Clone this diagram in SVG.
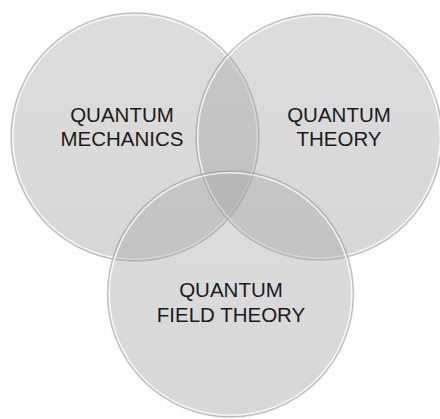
<svg xmlns="http://www.w3.org/2000/svg" width="440" height="419" viewBox="0 0 440 419">
  <defs>
    <linearGradient id="fillGrad" x1="0" y1="0" x2="0" y2="1">
      <stop offset="0" stop-color="#a8a8a8"/>
      <stop offset="1" stop-color="#9c9c9c"/>
    </linearGradient>
    <style>
      .disc { fill: url(#fillGrad); fill-opacity: 0.4; }
      .shade { fill: none; stroke: #9a9a9a; stroke-opacity: 0.55; stroke-width: 1.5; }
      .rim { fill: none; stroke: #ffffff; stroke-opacity: 0.75; stroke-width: 1.6; }
      .label { font-family: "Liberation Sans", Arial, sans-serif; font-size: 20.5px; fill: #1a1a1a; text-anchor: middle; }
    </style>
  </defs>
  <rect width="440" height="419" fill="#ffffff"/>
  <g id="node-quantum-mechanics">
    <circle class="disc" cx="135" cy="137" r="124"/>
    <circle class="shade" cx="135" cy="137" r="124"/>
    <circle class="rim" cx="135" cy="137" r="122.3"/>
    <text class="label" x="122" y="121.5">QUANTUM</text>
    <text class="label" x="122" y="145.5">MECHANICS</text>
  </g>
  <g id="node-quantum-theory">
    <circle class="disc" cx="319" cy="137" r="123"/>
    <circle class="shade" cx="319" cy="137" r="123"/>
    <circle class="rim" cx="319" cy="137" r="121.3"/>
    <text class="label" x="339" y="121.5">QUANTUM</text>
    <text class="label" x="339" y="145.5">THEORY</text>
  </g>
  <g id="node-quantum-field-theory">
    <circle class="disc" cx="230.5" cy="294" r="123"/>
    <circle class="shade" cx="230.5" cy="294" r="123"/>
    <circle class="rim" cx="230.5" cy="294" r="121.3"/>
    <text class="label" x="231" y="296.7">QUANTUM</text>
    <text class="label" x="231" y="322">FIELD THEORY</text>
  </g>
  <g id="connectors"/>
</svg>
